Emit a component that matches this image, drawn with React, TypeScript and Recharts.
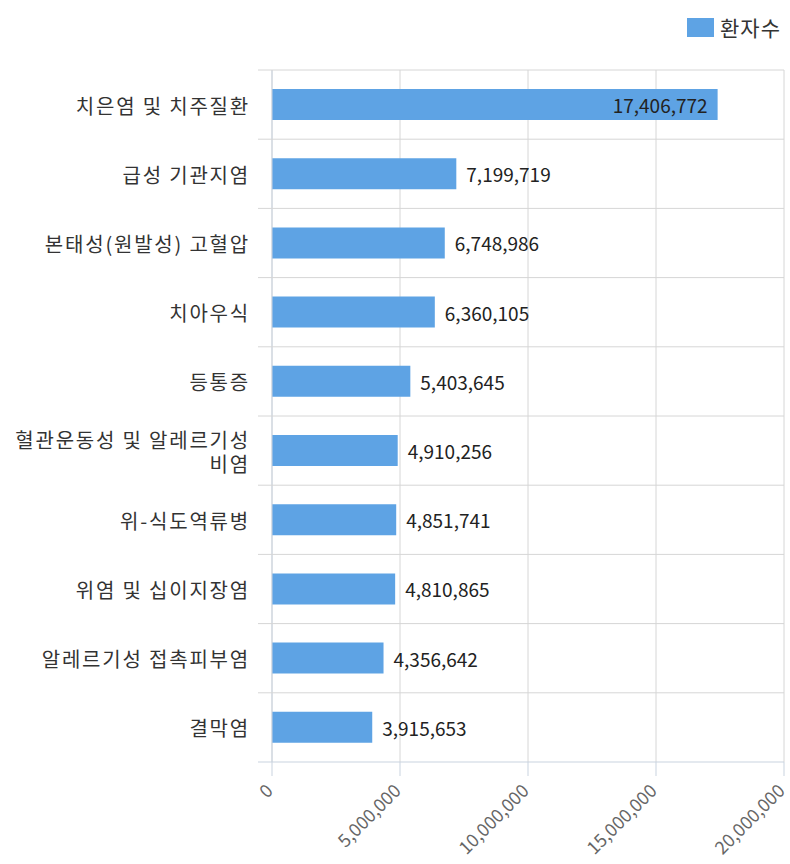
import { Bar, BarChart, CartesianGrid, LabelList, Legend, XAxis, YAxis } from 'recharts'

const diseases = [
  '치은염 및 치주질환',
  '급성 기관지염',
  '본태성(원발성) 고혈압',
  '치아우식',
  '등통증',
  '혈관운동성 및 알레르기성 비염',
  '위-식도역류병',
  '위염 및 십이지장염',
  '알레르기성 접촉피부염',
  '결막염',
]
const patients = [17406772, 7199719, 6748986, 6360105, 5403645, 4910256, 4851741, 4810865, 4356642, 3915653]
const xTicks = [0, 5000000, 10000000, 15000000, 20000000]
const seriesName = '환자수'

const data = diseases.map((name, i) => ({ name, patients: patients[i] }))

const W = 790
const H = 864
const margin = { top: 30, right: 6, bottom: 0, left: 0 }
const Y_AXIS_W = 272
const X_AXIS_H = 102
const PLOT_RIGHT = W - margin.right
const BAND_HALF = (H - margin.top - 40 - margin.bottom - X_AXIS_H) / diseases.length / 2

const FONT = '"Noto Sans CJK KR", "Noto Sans", sans-serif'
const BAR_COLOR = '#5ea3e4'
const AXIS_COLOR = '#c9d3df'
const GRID_COLOR = '#d6d6d6'

const CAT_SIZE = 20
const CAT_SPACING = 1.8
const CAT_MAX_W = 245
const CAT_LINE_H = 24

const fmt = (v: number) => v.toLocaleString('en-US')

let measureCtx: CanvasRenderingContext2D | null = null
function textWidth(s: string): number {
  if (!measureCtx) measureCtx = document.createElement('canvas').getContext('2d')
  if (!measureCtx) return s.length * CAT_SIZE
  measureCtx.font = `${CAT_SIZE}px ${FONT}`
  return measureCtx.measureText(s).width + s.length * CAT_SPACING
}

function wrapLabel(label: string): string[] {
  const words = label.split(' ')
  const lines: string[] = []
  let cur = ''
  for (const w of words) {
    const test = cur ? `${cur} ${w}` : w
    if (cur && textWidth(test) > CAT_MAX_W) {
      lines.push(cur)
      cur = w
    } else {
      cur = test
    }
  }
  if (cur) lines.push(cur)
  return lines
}

function CategoryTick(props: any) {
  const { x, y, payload, index } = props
  const half = payload?.offset ? payload.offset : BAND_HALF
  const isLast = index === diseases.length - 1
  const lines = wrapLabel(String(payload.value))
  return (
    <g>
      <line x1={x + 8} x2={PLOT_RIGHT} y1={y - half} y2={y - half} stroke={GRID_COLOR} />
      {isLast && <line x1={x + 8} x2={x + 22} y1={y + half} y2={y + half} stroke={AXIS_COLOR} />}
      <text
        textAnchor="end"
        dominantBaseline="central"
        fontSize={CAT_SIZE}
        fontFamily={FONT}
        letterSpacing={CAT_SPACING}
        fill="#333"
      >
        {lines.map((ln, i) => (
          <tspan key={i} x={x} y={y + (i - (lines.length - 1) / 2) * CAT_LINE_H}>
            {ln}
          </tspan>
        ))}
      </text>
    </g>
  )
}

function ValueTick(props: any) {
  const { x, y, payload } = props
  const tx = x + 2
  const ty = y + 14
  return (
    <text
      x={tx}
      y={ty}
      transform={`rotate(-45, ${tx}, ${ty})`}
      textAnchor="end"
      fontSize={18}
      fontFamily={FONT}
      fill="#666"
    >
      {fmt(payload.value)}
    </text>
  )
}

function ValueLabel(props: any) {
  const { x, y, width, height, value } = props
  const inside = width > 300
  return (
    <text
      x={inside ? x + width - 10 : x + width + 10}
      y={y + height / 2}
      textAnchor={inside ? 'end' : 'start'}
      dominantBaseline="central"
      fontSize={19}
      fontFamily={FONT}
      fill="#222"
    >
      {fmt(value)}
    </text>
  )
}

function LegendBox() {
  return (
    <div
      style={{
        height: 40,
        display: 'flex',
        justifyContent: 'flex-end',
        alignItems: 'center',
        paddingRight: 3,
        fontFamily: FONT,
        fontSize: 21,
        letterSpacing: 1,
        color: '#333',
      }}
    >
      <span style={{ width: 27, height: 19, background: BAR_COLOR, marginRight: 6 }} />
      <span>{seriesName}</span>
    </div>
  )
}

export default function App() {
  return (
    <div style={{ position: 'absolute', left: 0, top: 0, width: W, height: H, background: '#fff' }}>
      <BarChart width={W} height={H} data={data} layout="vertical" margin={margin}>
        <CartesianGrid horizontal={false} stroke={GRID_COLOR} strokeDasharray="" />
        <XAxis
          type="number"
          dataKey="patients"
          domain={[0, 20000000]}
          ticks={xTicks}
          interval={0}
          height={X_AXIS_H}
          axisLine={{ stroke: AXIS_COLOR }}
          tickLine={{ stroke: AXIS_COLOR }}
          tickSize={14}
          tick={<ValueTick />}
        />
        <YAxis
          type="category"
          dataKey="name"
          width={Y_AXIS_W}
          interval={0}
          axisLine={{ stroke: AXIS_COLOR }}
          tickLine={false}
          tickSize={0}
          tickMargin={22}
          tick={<CategoryTick />}
        />
        <Legend
          verticalAlign="top"
          align="right"
          wrapperStyle={{ top: 7 }}
          content={<LegendBox />}
        />
        <Bar dataKey="patients" name={seriesName} fill={BAR_COLOR} barSize={31} isAnimationActive={false}>
          <LabelList dataKey="patients" content={<ValueLabel />} />
        </Bar>
      </BarChart>
    </div>
  )
}
